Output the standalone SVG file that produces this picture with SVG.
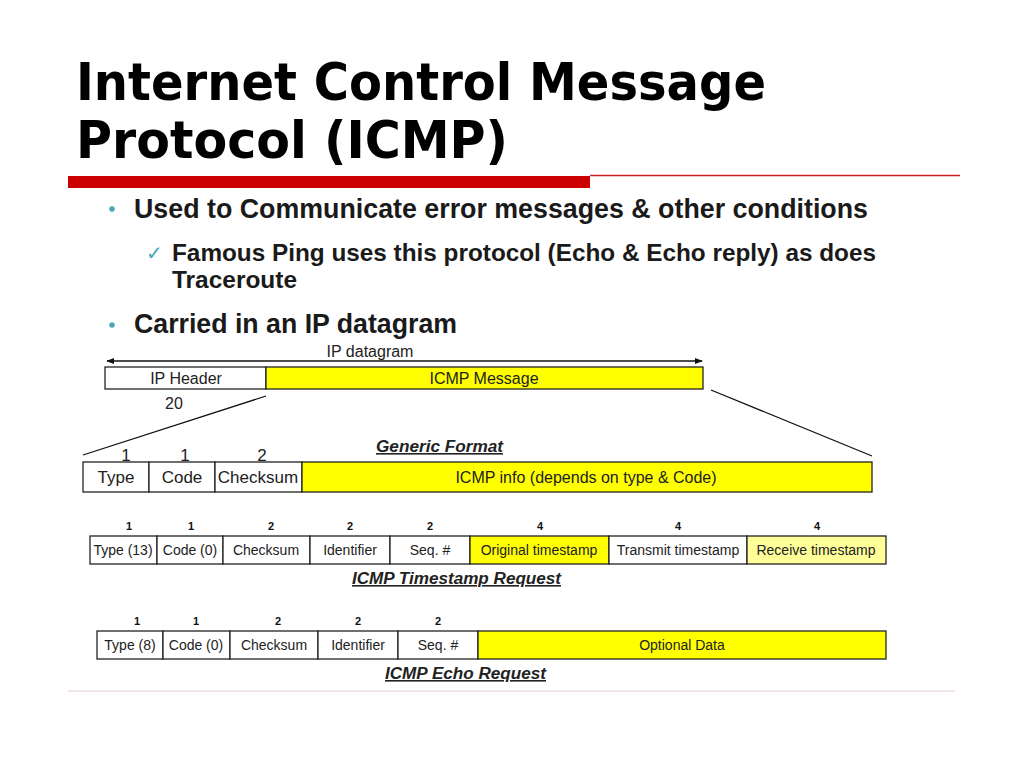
<svg xmlns="http://www.w3.org/2000/svg" width="1024" height="768" viewBox="0 0 1024 768">
<style>
.title{font-family:"DejaVu Sans",sans-serif;font-weight:bold;font-size:52px;fill:#000}
.body{font-family:"Liberation Sans",Arial,sans-serif;font-weight:bold;fill:#1a1a1a}
.cell{stroke:#222;stroke-width:1.3}
.w{fill:#fff}
.y{fill:#ffff00}
.ly{fill:#ffff99}
.t{font-family:"Liberation Sans",Arial,sans-serif;fill:#222;text-anchor:middle}
.big{font-size:17px}
.sm{font-size:14px}
.num{font-family:"Liberation Sans",Arial,sans-serif;font-weight:bold;font-size:11px;fill:#111;text-anchor:middle}
.hd{font-family:"Liberation Sans",Arial,sans-serif;font-weight:bold;font-style:italic;font-size:16px;fill:#222;text-decoration:underline}
.conn{stroke:#111;stroke-width:1.3;fill:none}
</style>
<defs>
<marker id="ah" viewBox="0 0 10 10" refX="9" refY="5" markerWidth="8" markerHeight="8" markerUnits="userSpaceOnUse" orient="auto-start-reverse">
<path d="M0,1 L10,5 L0,9 z" fill="#111"/>
</marker>
</defs>
<rect width="1024" height="768" fill="#fff"/>

<g id="title">
<text class="title" x="76" y="100" textLength="690" lengthAdjust="spacingAndGlyphs">Internet Control Message</text>
<text class="title" x="76" y="158" textLength="432" lengthAdjust="spacingAndGlyphs">Protocol (ICMP)</text>
<rect x="68" y="176" width="522" height="12" fill="#cc0000"/>
<line x1="590" y1="175.5" x2="960" y2="175.5" stroke="#cc2020" stroke-width="1.3"/>
</g>

<g id="bullets">
<circle cx="112" cy="209" r="2.8" fill="#4aa8b8"/>
<text class="body" x="134" y="218" font-size="27" textLength="734" lengthAdjust="spacingAndGlyphs">Used to Communicate error messages &amp; other conditions</text>
<text x="146" y="260" font-family="DejaVu Sans,sans-serif" font-size="20" fill="#4aa8b8">✓</text>
<text class="body" x="172" y="261" font-size="24" textLength="704" lengthAdjust="spacingAndGlyphs">Famous Ping uses this protocol (Echo &amp; Echo reply) as does</text>
<text class="body" x="172" y="288" font-size="24" textLength="125" lengthAdjust="spacingAndGlyphs">Traceroute</text>
<circle cx="112" cy="325" r="2.8" fill="#4aa8b8"/>
<text class="body" x="134" y="333" font-size="27" textLength="323" lengthAdjust="spacingAndGlyphs">Carried in an IP datagram</text>
</g>

<g id="connectors">
<line class="conn" x1="107" y1="361" x2="702" y2="361" marker-start="url(#ah)" marker-end="url(#ah)"/>
<line class="conn" x1="266" y1="396" x2="83" y2="455"/>
<line class="conn" x1="711" y1="390" x2="872" y2="456"/>
</g>

<g id="ip-datagram">
<text class="t" x="370" y="357" font-size="16">IP datagram</text>
<g id="ip-header"><rect class="cell w" x="105" y="367" width="161" height="22"/><text class="t" x="186" y="384" font-size="16">IP Header</text></g>
<g id="icmp-message"><rect class="cell y" x="266" y="367" width="437" height="22"/><text class="t" x="484" y="384" font-size="16">ICMP Message</text></g>
<text class="t" x="174" y="409" font-size="16">20</text>
</g>

<g id="generic-format">
<text class="hd" x="376" y="452" textLength="127" lengthAdjust="spacingAndGlyphs">Generic Format</text>
<text class="t" x="126" y="461" font-size="17">1</text>
<text class="t" x="185" y="461" font-size="17">1</text>
<text class="t" x="262" y="461" font-size="17">2</text>
<g id="g-type"><rect class="cell w" x="83" y="462" width="66" height="30"/><text class="t big" x="116" y="483">Type</text></g>
<g id="g-code"><rect class="cell w" x="149" y="462" width="66" height="30"/><text class="t big" x="182" y="483">Code</text></g>
<g id="g-checksum"><rect class="cell w" x="215" y="462" width="87" height="30"/><text class="t big" x="258" y="483">Checksum</text></g>
<g id="g-info"><rect class="cell y" x="302" y="462" width="570" height="30"/><text class="t" x="586" y="483" font-size="16">ICMP info (depends on type &amp; Code)</text></g>
</g>

<g id="timestamp-request">
<text class="num" x="129" y="530">1</text>
<text class="num" x="191" y="530">1</text>
<text class="num" x="271" y="530">2</text>
<text class="num" x="350" y="530">2</text>
<text class="num" x="430" y="530">2</text>
<text class="num" x="540" y="530">4</text>
<text class="num" x="678" y="530">4</text>
<text class="num" x="817" y="530">4</text>
<g id="ts-type"><rect class="cell w" x="90" y="536" width="67" height="28"/><text class="t sm" x="123" y="555">Type (13)</text></g>
<g id="ts-code"><rect class="cell w" x="157" y="536" width="66" height="28"/><text class="t sm" x="190" y="555">Code (0)</text></g>
<g id="ts-checksum"><rect class="cell w" x="223" y="536" width="87" height="28"/><text class="t sm" x="266" y="555">Checksum</text></g>
<g id="ts-identifier"><rect class="cell w" x="310" y="536" width="80" height="28"/><text class="t sm" x="350" y="555">Identifier</text></g>
<g id="ts-seq"><rect class="cell w" x="390" y="536" width="80" height="28"/><text class="t sm" x="430" y="555">Seq. #</text></g>
<g id="ts-original"><rect class="cell y" x="470" y="536" width="139" height="28"/><text class="t sm" x="539" y="555">Original timestamp</text></g>
<g id="ts-transmit"><rect class="cell w" x="609" y="536" width="138" height="28"/><text class="t sm" x="678" y="555">Transmit timestamp</text></g>
<g id="ts-receive"><rect class="cell ly" x="747" y="536" width="139" height="28"/><text class="t sm" x="816" y="555">Receive timestamp</text></g>
<text class="hd" x="352" y="584" textLength="209" lengthAdjust="spacingAndGlyphs">ICMP Timestamp Request</text>
</g>

<g id="echo-request">
<text class="num" x="137" y="625">1</text>
<text class="num" x="196" y="625">1</text>
<text class="num" x="278" y="625">2</text>
<text class="num" x="358" y="625">2</text>
<text class="num" x="438" y="625">2</text>
<g id="er-type"><rect class="cell w" x="97" y="631" width="66" height="28"/><text class="t sm" x="130" y="650">Type (8)</text></g>
<g id="er-code"><rect class="cell w" x="163" y="631" width="67" height="28"/><text class="t sm" x="196" y="650">Code (0)</text></g>
<g id="er-checksum"><rect class="cell w" x="230" y="631" width="88" height="28"/><text class="t sm" x="274" y="650">Checksum</text></g>
<g id="er-identifier"><rect class="cell w" x="318" y="631" width="80" height="28"/><text class="t sm" x="358" y="650">Identifier</text></g>
<g id="er-seq"><rect class="cell w" x="398" y="631" width="80" height="28"/><text class="t sm" x="438" y="650">Seq. #</text></g>
<g id="er-data"><rect class="cell y" x="478" y="631" width="408" height="28"/><text class="t sm" x="682" y="650">Optional Data</text></g>
<text class="hd" x="385" y="679" textLength="161" lengthAdjust="spacingAndGlyphs">ICMP Echo Request</text>
</g>

<line x1="68" y1="691" x2="955" y2="691" stroke="#e8cccc" stroke-width="1"/>
</svg>
